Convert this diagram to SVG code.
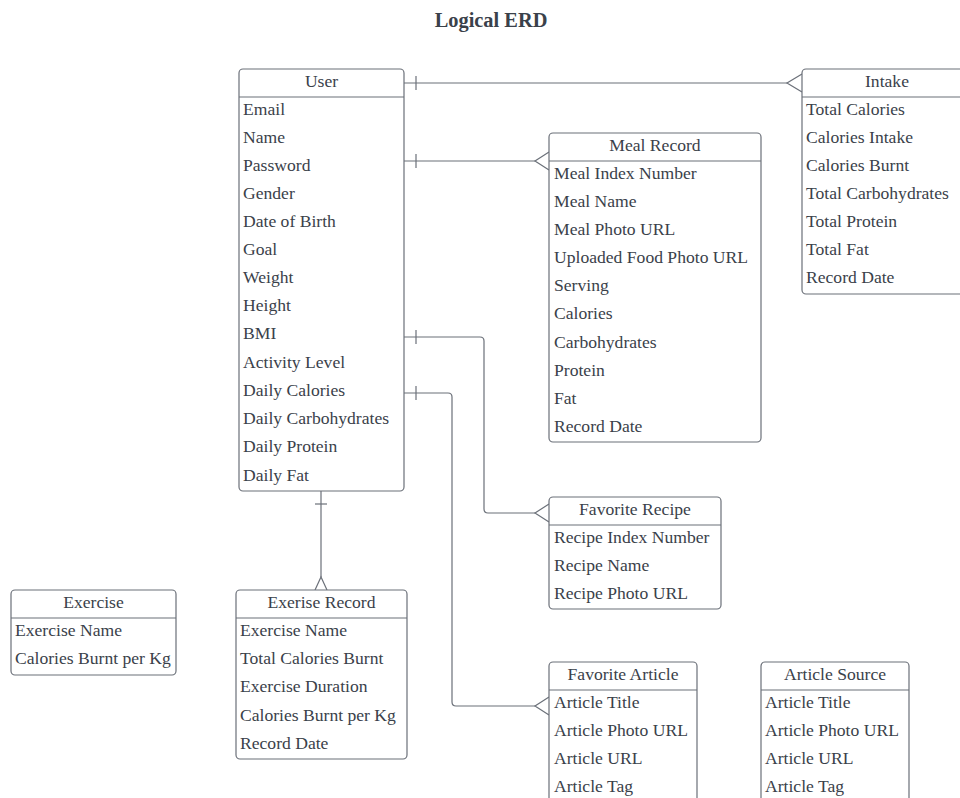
<svg xmlns="http://www.w3.org/2000/svg" width="960" height="798" viewBox="0 0 960 798">
  <style>
    .box { fill: #ffffff; stroke: #6b7079; stroke-width: 1.2; }
    .sep { stroke: #6b7079; stroke-width: 1.2; }
    .hd { font-family: "Liberation Serif", "Times New Roman", serif; font-size: 17.6px; fill: #3a414a; text-anchor: middle; }
    .fd { font-family: "Liberation Serif", "Times New Roman", serif; font-size: 17.6px; fill: #3a414a; }
    .title { font-family: "Liberation Serif", "Times New Roman", serif; font-size: 20.4px; font-weight: bold; fill: #3a414a; text-anchor: middle; }
    .wire { fill: none; stroke: #6b7079; stroke-width: 1.2; }
  </style>

  <rect width="960" height="798" fill="#ffffff"/>
  <text class="title" x="491" y="27">Logical ERD</text>

  <!-- connectors: one-to-many relations out of User -->
  <g id="connectors">
    <!-- User -> Intake -->
    <path class="wire" d="M404 83 H787"/>
    <path class="wire" d="M416 76 V90"/>
    <path class="wire" d="M802 74 L787 83 L802 92"/>
    <!-- User -> Meal Record -->
    <path class="wire" d="M404 161 H535"/>
    <path class="wire" d="M416 154 V168"/>
    <path class="wire" d="M549 152 L535 161 L549 170"/>
    <!-- User -> Favorite Recipe -->
    <path class="wire" d="M404 337 H480 Q484 337 484 341 V509 Q484 513 488 513 H535"/>
    <path class="wire" d="M416 330 V344"/>
    <path class="wire" d="M549 504 L535 513 L549 522"/>
    <!-- User -> Favorite Article -->
    <path class="wire" d="M404 393 H448 Q452 393 452 397 V702 Q452 706 456 706 H535"/>
    <path class="wire" d="M416 386 V400"/>
    <path class="wire" d="M549 697 L535 706 L549 715"/>
    <!-- User -> Exerise Record -->
    <path class="wire" d="M321 491 V577"/>
    <path class="wire" d="M315 504 H327"/>
    <path class="wire" d="M315 590 L321 577 L327 590"/>
  </g>

  <g id="user">
    <rect class="box" x="239" y="69" width="165" height="422" rx="4"/>
    <line class="sep" x1="239" y1="97" x2="404" y2="97"/>
    <text class="hd" x="321.5" y="87">User</text>
    <text class="fd" x="243" y="115">Email</text>
    <text class="fd" x="243" y="143">Name</text>
    <text class="fd" x="243" y="171">Password</text>
    <text class="fd" x="243" y="199">Gender</text>
    <text class="fd" x="243" y="227">Date of Birth</text>
    <text class="fd" x="243" y="255">Goal</text>
    <text class="fd" x="243" y="283">Weight</text>
    <text class="fd" x="243" y="311">Height</text>
    <text class="fd" x="243" y="339">BMI</text>
    <text class="fd" x="243" y="368">Activity Level</text>
    <text class="fd" x="243" y="396">Daily Calories</text>
    <text class="fd" x="243" y="424">Daily Carbohydrates</text>
    <text class="fd" x="243" y="452">Daily Protein</text>
    <text class="fd" x="243" y="481">Daily Fat</text>
  </g>

  <g id="intake">
    <rect class="box" x="802" y="69" width="170" height="225" rx="4"/>
    <line class="sep" x1="802" y1="97" x2="972" y2="97"/>
    <text class="hd" x="887" y="87">Intake</text>
    <text class="fd" x="806" y="115">Total Calories</text>
    <text class="fd" x="806" y="143">Calories Intake</text>
    <text class="fd" x="806" y="171">Calories Burnt</text>
    <text class="fd" x="806" y="199">Total Carbohydrates</text>
    <text class="fd" x="806" y="227">Total Protein</text>
    <text class="fd" x="806" y="255">Total Fat</text>
    <text class="fd" x="806" y="283">Record Date</text>
  </g>

  <g id="meal-record">
    <rect class="box" x="549" y="133" width="212" height="309" rx="4"/>
    <line class="sep" x1="549" y1="161" x2="761" y2="161"/>
    <text class="hd" x="655" y="151">Meal Record</text>
    <text class="fd" x="554" y="179">Meal Index Number</text>
    <text class="fd" x="554" y="207">Meal Name</text>
    <text class="fd" x="554" y="235">Meal Photo URL</text>
    <text class="fd" x="554" y="263">Uploaded Food Photo URL</text>
    <text class="fd" x="554" y="291">Serving</text>
    <text class="fd" x="554" y="319">Calories</text>
    <text class="fd" x="554" y="348">Carbohydrates</text>
    <text class="fd" x="554" y="376">Protein</text>
    <text class="fd" x="554" y="404">Fat</text>
    <text class="fd" x="554" y="432">Record Date</text>
  </g>

  <g id="favorite-recipe">
    <rect class="box" x="549" y="497" width="172" height="112" rx="4"/>
    <line class="sep" x1="549" y1="525" x2="721" y2="525"/>
    <text class="hd" x="635" y="515">Favorite Recipe</text>
    <text class="fd" x="554" y="543">Recipe Index Number</text>
    <text class="fd" x="554" y="571">Recipe Name</text>
    <text class="fd" x="554" y="599">Recipe Photo URL</text>
  </g>

  <g id="exercise">
    <rect class="box" x="11" y="590" width="165" height="85" rx="4"/>
    <line class="sep" x1="11" y1="618" x2="176" y2="618"/>
    <text class="hd" x="93.5" y="608">Exercise</text>
    <text class="fd" x="15" y="636">Exercise Name</text>
    <text class="fd" x="15" y="664">Calories Burnt per Kg</text>
  </g>

  <g id="exercise-record">
    <rect class="box" x="236" y="590" width="171" height="169" rx="4"/>
    <line class="sep" x1="236" y1="618" x2="407" y2="618"/>
    <text class="hd" x="321.5" y="608">Exerise Record</text>
    <text class="fd" x="240" y="636">Exercise Name</text>
    <text class="fd" x="240" y="664">Total Calories Burnt</text>
    <text class="fd" x="240" y="692">Exercise Duration</text>
    <text class="fd" x="240" y="721">Calories Burnt per Kg</text>
    <text class="fd" x="240" y="749">Record Date</text>
  </g>

  <g id="favorite-article">
    <rect class="box" x="549" y="662" width="148" height="146" rx="4"/>
    <line class="sep" x1="549" y1="690" x2="697" y2="690"/>
    <text class="hd" x="623" y="680">Favorite Article</text>
    <text class="fd" x="554" y="708">Article Title</text>
    <text class="fd" x="554" y="736">Article Photo URL</text>
    <text class="fd" x="554" y="764">Article URL</text>
    <text class="fd" x="554" y="792">Article Tag</text>
  </g>

  <g id="article-source">
    <rect class="box" x="761" y="662" width="148" height="146" rx="4"/>
    <line class="sep" x1="761" y1="690" x2="909" y2="690"/>
    <text class="hd" x="835" y="680">Article Source</text>
    <text class="fd" x="765" y="708">Article Title</text>
    <text class="fd" x="765" y="736">Article Photo URL</text>
    <text class="fd" x="765" y="764">Article URL</text>
    <text class="fd" x="765" y="792">Article Tag</text>
  </g>
</svg>
